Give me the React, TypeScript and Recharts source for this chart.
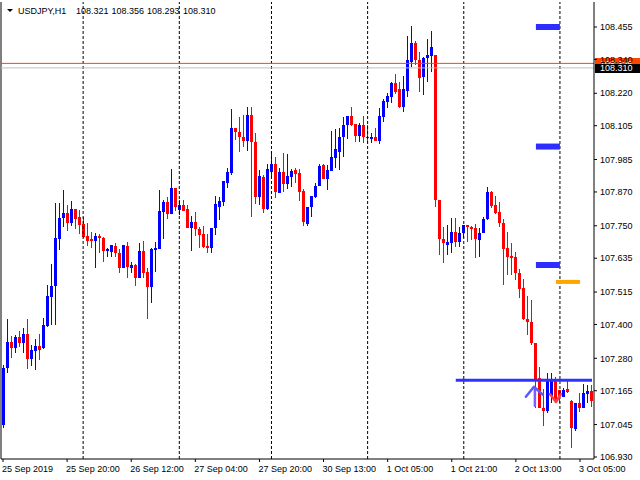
import React from 'react';
import { ComposedChart, Bar, XAxis, YAxis, ReferenceLine, ReferenceDot } from 'recharts';

const opens = [107.043,107.246,107.338,107.317,107.356,107.334,107.367,107.278,107.306,107.324,107.317,107.395,107.497,107.537,107.703,107.778,107.795,107.760,107.810,107.781,107.757,107.714,107.703,107.696,107.714,107.707,107.661,107.657,107.679,107.653,107.601,107.679,107.601,107.611,107.565,107.661,107.586,107.533,107.664,107.668,107.799,107.835,107.792,107.885,107.806,107.824,107.810,107.743,107.764,107.739,107.721,107.679,107.672,107.743,107.817,107.835,107.902,107.937,108.097,108.083,108.065,108.051,108.143,108.047,107.852,107.923,107.810,107.941,107.970,107.866,107.941,107.899,107.923,107.948,107.937,107.874,107.757,107.817,107.852,107.892,107.966,107.916,107.945,107.991,108.012,108.065,108.107,108.140,108.111,108.069,108.107,108.065,108.058,108.065,108.051,108.136,108.189,108.207,108.257,108.235,108.171,108.228,108.331,108.398,108.338,108.278,108.345,108.352,108.356,107.842,107.703,107.682,107.689,107.728,107.693,107.724,107.753,107.746,107.743,107.700,107.724,107.774,107.870,107.824,107.799,107.760,107.672,107.643,107.639,107.582,107.529,107.420,107.409,107.334,107.210,107.104,107.093,107.147,107.207,107.168,107.143,107.171,107.129,107.030,107.122,107.104,107.154,107.164];
const highs = [107.256,107.420,107.360,107.363,107.377,107.388,107.420,107.327,107.349,107.367,107.424,107.540,107.615,107.831,107.831,107.877,107.824,107.838,107.810,107.806,107.781,107.760,107.728,107.724,107.721,107.710,107.672,107.682,107.689,107.668,107.682,107.693,107.622,107.615,107.689,107.696,107.601,107.672,107.693,107.877,107.842,107.852,107.952,107.885,107.842,107.842,107.824,107.785,107.799,107.746,107.750,107.721,107.743,107.856,107.852,107.909,107.956,108.164,108.097,108.136,108.143,108.171,108.171,108.079,107.948,107.930,107.970,108.012,107.994,107.956,108.008,108.005,107.952,107.956,107.952,107.881,107.817,107.856,107.902,107.970,107.970,107.966,108.086,108.093,108.097,108.136,108.140,108.171,108.111,108.114,108.140,108.107,108.079,108.097,108.168,108.200,108.221,108.260,108.289,108.260,108.282,108.424,108.459,108.405,108.367,108.349,108.413,108.441,108.356,107.842,107.746,107.753,107.778,107.778,107.746,107.753,107.753,107.750,107.757,107.743,107.781,107.888,107.874,107.856,107.835,107.774,107.728,107.689,107.657,107.597,107.561,107.501,107.487,107.334,107.249,107.171,107.228,107.228,107.214,107.168,107.175,107.207,107.132,107.122,107.157,107.189,107.185,107.185];
const lows = [107.033,107.228,107.282,107.299,107.320,107.299,107.242,107.253,107.239,107.274,107.313,107.391,107.398,107.398,107.664,107.746,107.732,107.750,107.739,107.721,107.707,107.679,107.672,107.601,107.653,107.622,107.639,107.639,107.639,107.582,107.601,107.565,107.582,107.537,107.565,107.565,107.420,107.476,107.586,107.668,107.703,107.774,107.792,107.803,107.788,107.803,107.743,107.661,107.714,107.672,107.672,107.653,107.653,107.717,107.771,107.821,107.885,107.930,108.054,108.012,108.029,108.015,107.781,107.828,107.824,107.795,107.806,107.920,107.849,107.866,107.870,107.881,107.888,107.902,107.838,107.750,107.750,107.781,107.849,107.892,107.916,107.877,107.945,107.956,107.948,107.994,108.058,108.104,108.047,108.047,108.044,108.044,108.044,108.051,108.040,108.118,108.168,108.185,108.218,108.168,108.154,108.207,108.313,108.320,108.225,108.214,108.260,108.296,107.817,107.646,107.618,107.646,107.653,107.675,107.675,107.707,107.693,107.700,107.636,107.639,107.724,107.771,107.814,107.792,107.746,107.540,107.575,107.575,107.558,107.494,107.416,107.363,107.327,107.104,107.104,107.040,107.086,107.122,107.125,107.122,107.143,107.157,106.962,107.023,107.090,107.104,107.122,107.108];
const closes = [107.246,107.338,107.317,107.356,107.334,107.367,107.278,107.310,107.324,107.310,107.398,107.501,107.537,107.707,107.778,107.795,107.760,107.810,107.774,107.753,107.710,107.696,107.696,107.714,107.707,107.661,107.668,107.682,107.653,107.601,107.682,107.604,107.611,107.565,107.661,107.582,107.533,107.668,107.672,107.803,107.835,107.792,107.885,107.817,107.824,107.803,107.743,107.764,107.739,107.717,107.675,107.672,107.743,107.828,107.838,107.909,107.941,108.097,108.083,108.065,108.051,108.143,108.047,107.852,107.927,107.810,107.952,107.970,107.870,107.941,107.899,107.927,107.945,107.934,107.870,107.764,107.817,107.856,107.892,107.963,107.916,107.948,107.994,108.022,108.065,108.107,108.140,108.107,108.069,108.107,108.065,108.062,108.065,108.051,108.140,108.193,108.211,108.257,108.225,108.171,108.235,108.338,108.398,108.338,108.274,108.345,108.356,108.384,107.842,107.703,107.689,107.693,107.728,107.693,107.724,107.753,107.746,107.739,107.703,107.724,107.774,107.870,107.821,107.795,107.760,107.668,107.639,107.636,107.582,107.526,107.420,107.409,107.334,107.207,107.104,107.093,107.207,107.207,107.129,107.147,107.168,107.161,107.033,107.122,107.104,107.157,107.164,107.129];

const timeLabels = ['25 Sep 2019', '25 Sep 20:00', '26 Sep 12:00', '27 Sep 04:00', '27 Sep 20:00', '30 Sep 13:00', '1 Oct 05:00', '1 Oct 21:00', '2 Oct 13:00', '3 Oct 05:00'];
const labelEvery = 16;
const priceTicks = [108.455, 108.34, 108.22, 108.105, 107.985, 107.87, 107.75, 107.635, 107.515, 107.4, 107.28, 107.165, 107.045, 106.93];
const priceDomain = [106.9229, 108.5437];
const separators = [20, 44, 67, 91, 115, 139];
const titleParts = ['USDJPY,H1', '108.321', '108.356', '108.293', '108.310'];
const bidPrice = 108.31;
const askPrice = 108.326;
const blueLevels = [108.455, 108.031, 107.611];
const blueLevelSpan = [133, 139];
const orangeLevel = 107.551;
const orangeLevelSpan = [138, 144];
const supportLevel = 107.202;
const supportSpan = [113, 147];
const upArrow = { x: 133, y: 107.179 };
const downArrow = { x: 138, y: 107.125 };

const FONT = 'Liberation Sans';
const BULL = '#0000ff';
const BEAR = '#ff0000';

const data = opens.map((o, i) => ({
  i,
  o,
  h: highs[i],
  l: lows[i],
  c: closes[i],
  range: [Math.min(lows[i], o, closes[i]), Math.max(highs[i], o, closes[i])],
}));

const Candle = (props: any) => {
  const { x, y, width, height, payload } = props;
  if (x == null || y == null || !payload) return null;
  const { o, c } = payload;
  const hi = payload.range[1];
  const lo = payload.range[0];
  const span = hi - lo;
  const py = (p: number) => (span > 0 ? y + ((hi - p) / span) * height : y);
  const col = Math.floor(x + width / 2);
  const color = c > o ? BULL : c < o ? BEAR : BULL;
  const wTop = Math.round(py(hi));
  const wBot = Math.round(py(lo));
  const bTop = Math.round(py(Math.max(o, c)));
  const bBot = Math.round(py(Math.min(o, c)));
  return (
    <g>
      <rect x={col} y={wTop} width={1} height={Math.max(1, wBot - wTop)} fill={color} shapeRendering="crispEdges" />
      <rect x={col - 1} y={bTop} width={3} height={Math.max(1, bBot - bTop)} fill={color} shapeRendering="crispEdges" />
    </g>
  );
};

const TimeTick = (props: any) => {
  const { x, y, payload } = props;
  const label = timeLabels[Math.round(payload.value / labelEvery)];
  return (
    <text x={x - 1} y={y} dy="0.71em" textAnchor="start" fontSize={9} fontFamily={FONT} fill="#000">
      {label}
    </text>
  );
};

const PriceTag = (props: any) => {
  const { viewBox, bg, fg, text, up, down } = props;
  if (!viewBox) return null;
  const x = viewBox.x + viewBox.width + 1;
  const y = viewBox.y;
  return (
    <g>
      <rect x={x} y={y - up} width={46} height={up + down} fill={bg} shapeRendering="crispEdges" />
      <text x={x + 5} y={y} dy="0.355em" fontSize={9} fontFamily={FONT} fill={fg}>
        {text}
      </text>
    </g>
  );
};

const UpArrowShape = (props: any) => {
  const { cx, cy } = props;
  if (cx == null) return null;
  return (
    <g fill="none" strokeWidth={2.5} strokeLinecap="round" strokeLinejoin="round">
      <line x1={cx - 1} y1={cy + 2} x2={cx - 1} y2={cy + 19} stroke="#7a5cff" />
      <polyline points={`${cx - 10},${cy + 10} ${cx - 2},${cy} ${cx + 7},${cy + 8}`} stroke="#5a5aff" />
    </g>
  );
};

const DownArrowShape = (props: any) => {
  const { cx, cy } = props;
  if (cx == null) return null;
  return (
    <g fill="none" strokeWidth={2.5} strokeLinecap="round" strokeLinejoin="round">
      <polyline points={`${cx - 6},${cy - 8} ${cx},${cy} ${cx + 5},${cy - 8}`} stroke="#ff3b4b" />
    </g>
  );
};

export default function App() {
  return (
    <div style={{ position: 'absolute', left: 0, top: 0, width: 640, height: 480, background: '#fff' }}>
      <ComposedChart
        width={640}
        height={480}
        data={data}
        margin={{ top: 2, right: 0, bottom: 0, left: 1 }}
        barCategoryGap={0}
        barGap={0}
      >
        <XAxis
          dataKey="i"
          type="category"
          interval={labelEvery - 1}
          height={21}
          tickSize={3}
          tickMargin={4}
          axisLine={{ stroke: '#000' }}
          tickLine={{ stroke: '#000' }}
          tick={<TimeTick />}
        />
        <YAxis
          orientation="right"
          type="number"
          domain={priceDomain}
          allowDataOverflow
          ticks={priceTicks}
          interval={0}
          width={46}
          tickSize={3}
          tickMargin={3}
          axisLine={{ stroke: '#000' }}
          tickLine={{ stroke: '#000' }}
          tick={{ fill: '#000', fontSize: 9, fontFamily: FONT }}
          tickFormatter={(v: number) => v.toFixed(3)}
        />
        <ReferenceLine x={0} position="start" stroke="#000" strokeWidth={1} />
        {separators.map((s) => (
          <ReferenceLine key={'sep' + s} x={s} stroke="#000" strokeDasharray="3 2" strokeWidth={1} />
        ))}
        <Bar dataKey="range" shape={<Candle />} isAnimationActive={false} />
        <ReferenceLine
          y={askPrice}
          stroke="#ff4500"
          strokeWidth={1}
          label={<PriceTag bg="#ff4500" fg="#ffffff" text={askPrice.toFixed(3)} up={5} down={4} />}
        />
        <ReferenceLine
          y={bidPrice}
          stroke="#c0c0c0"
          strokeWidth={1}
          label={<PriceTag bg="#000000" fg="#ffffff" text={bidPrice.toFixed(3)} up={4} down={5} />}
        />
        {blueLevels.map((lv) => (
          <ReferenceLine
            key={'lv' + lv}
            segment={[{ x: blueLevelSpan[0], y: lv }, { x: blueLevelSpan[1], y: lv }]}
            stroke="#2d2dff"
            strokeWidth={6}
          />
        ))}
        <ReferenceLine
          segment={[{ x: orangeLevelSpan[0], y: orangeLevel }, { x: orangeLevelSpan[1], y: orangeLevel }]}
          stroke="#ffa500"
          strokeWidth={4}
        />
        <ReferenceLine
          segment={[{ x: supportSpan[0], y: supportLevel }, { x: supportSpan[1], y: supportLevel }]}
          stroke="#3030ff"
          strokeWidth={3}
        />
        <ReferenceDot x={upArrow.x} y={upArrow.y} r={1} shape={(p: any) => <UpArrowShape {...p} />} />
        <ReferenceDot x={downArrow.x} y={downArrow.y} r={1} shape={(p: any) => <DownArrowShape {...p} />} />
      </ComposedChart>
      <svg width={240} height={20} style={{ position: 'absolute', left: 0, top: 0 }}>
        <polygon points="7,9 13,9 10,12" fill="#000" />
        <text x={18} y={14} fontSize={9} fontFamily={FONT} fill="#000">{titleParts[0]}</text>
        <text x={76} y={14} fontSize={9} fontFamily={FONT} fill="#000">{titleParts[1]}</text>
        <text x={111.5} y={14} fontSize={9} fontFamily={FONT} fill="#000">{titleParts[2]}</text>
        <text x={147} y={14} fontSize={9} fontFamily={FONT} fill="#000">{titleParts[3]}</text>
        <text x={183} y={14} fontSize={9} fontFamily={FONT} fill="#000">{titleParts[4]}</text>
      </svg>
    </div>
  );
}
